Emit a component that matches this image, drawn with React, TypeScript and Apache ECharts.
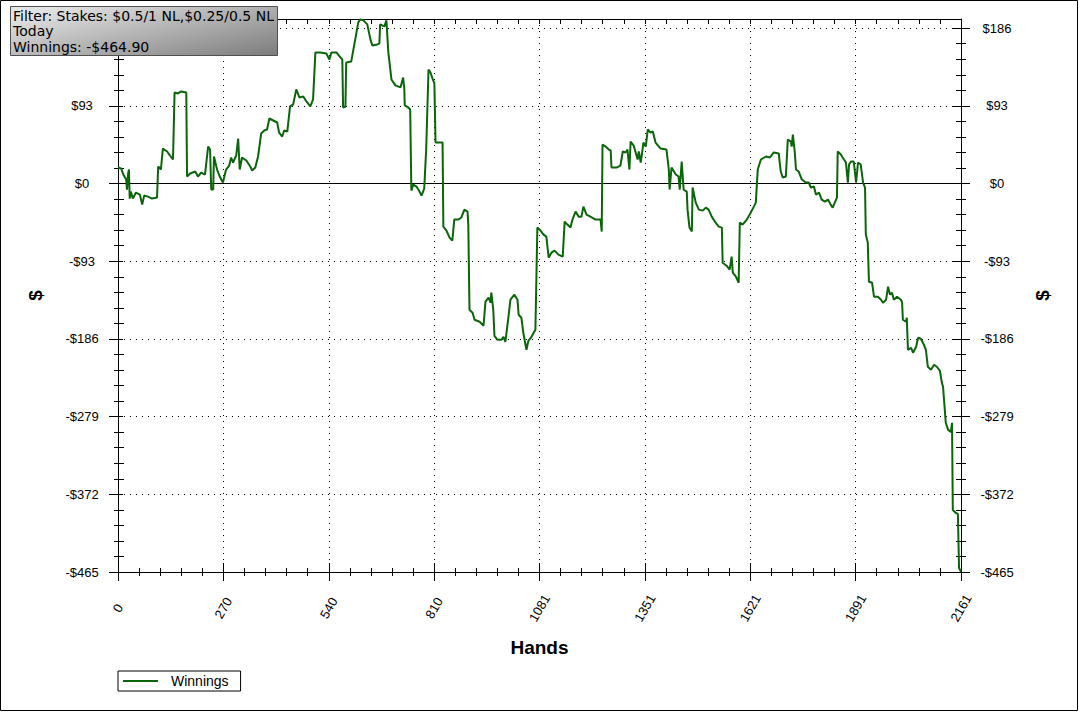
import React, { useEffect, useRef } from "react";
import * as echarts from "echarts";

// ---- data (hand number, cumulative winnings in $) ----
const hands = [
  0, 8, 15, 21, 23, 26, 28, 30, 33, 38,
  46, 56, 62, 67, 77, 87, 100, 103, 110, 115,
  126, 133, 141, 145, 154, 162, 175, 177, 185, 198,
  205, 213, 223, 231, 236, 239, 244, 246, 254, 262,
  269, 277, 285, 290, 295, 303, 308, 312, 318, 329,
  339, 344, 352, 359, 367, 375, 382, 388, 398, 408,
  413, 421, 426, 434, 441, 449, 457, 465, 475, 483,
  493, 500, 506, 518, 534, 542, 547, 560, 570, 575,
  577, 583, 585, 598, 616, 621, 629, 639, 647, 652,
  665, 670, 672, 683, 688, 693, 701, 711, 724, 731,
  734, 735, 744, 749, 752, 757, 765, 773, 778, 785,
  790, 796, 801, 808, 811, 814, 832, 834, 842, 850,
  857, 862, 873, 880, 888, 896, 898, 901, 909, 914,
  927, 937, 942, 950, 955, 957, 962, 965, 973, 983,
  988, 993, 1001, 1006, 1016, 1024, 1027, 1034, 1039, 1047,
  1052, 1060, 1070, 1075, 1083, 1091, 1098, 1104, 1111, 1119,
  1129, 1140, 1145, 1152, 1160, 1165, 1173, 1181, 1188, 1193,
  1201, 1211, 1224, 1237, 1240, 1242, 1250, 1258, 1263, 1265,
  1278, 1288, 1294, 1301, 1306, 1311, 1314, 1322, 1332, 1335,
  1340, 1347, 1353, 1358, 1365, 1371, 1378, 1391, 1406, 1412,
  1414, 1419, 1430, 1437, 1440, 1445, 1450, 1458, 1460, 1465,
  1471, 1473, 1481, 1489, 1499, 1507, 1514, 1522, 1530, 1540,
  1548, 1550, 1560, 1568, 1573, 1576, 1584, 1591, 1594, 1601,
  1612, 1622, 1630, 1635, 1640, 1648, 1661, 1671, 1681, 1694,
  1696, 1699, 1704, 1712, 1717, 1725, 1727, 1730, 1735, 1738,
  1745, 1753, 1763, 1771, 1776, 1784, 1789, 1797, 1804, 1812,
  1820, 1827, 1832, 1843, 1845, 1853, 1861, 1866, 1871, 1874,
  1879, 1886, 1892, 1897, 1904, 1910, 1915, 1917, 1922, 1925,
  1933, 1938, 1948, 1956, 1961, 1969, 1974, 1979, 1984, 1989,
  1997, 2007, 2010, 2012, 2020, 2022, 2025, 2033, 2038, 2046,
  2051, 2058, 2066, 2071, 2076, 2084, 2092, 2099, 2107, 2112,
  2115, 2122, 2128, 2135, 2138, 2140, 2148, 2153, 2156, 2161,
];

const winnings = [
  19.2, 18.0, 9.6, 4.8, -7.2, 12.0, 16.8, -18.0, -9.6, -18.0,
  -10.8, -13.2, -25.2, -14.4, -15.6, -18.0, -16.8, 20.4, 16.8, 41.9,
  38.4, 33.6, 28.8, 109.1, 107.9, 110.3, 109.1, 8.4, 12.0, 14.4,
  8.4, 13.2, 10.8, 44.3, 40.7, -7.2, -7.2, 32.4, 16.8, 7.2,
  1.2, 16.8, 21.6, 31.2, 25.2, 33.6, 53.9, 16.8, 31.2, 27.6,
  20.4, 15.6, 19.2, 32.4, 59.9, 63.5, 64.7, 77.9, 75.5, 73.1,
  61.1, 56.3, 63.5, 62.3, 92.3, 94.7, 112.7, 103.1, 104.3, 98.3,
  92.3, 100.7, 157.0, 157.0, 155.8, 148.6, 157.0, 157.0, 151.0, 148.6,
  91.1, 92.3, 145.0, 146.2, 193.0, 196.6, 195.4, 190.6, 172.6, 165.4,
  166.6, 167.8, 190.6, 188.2, 195.4, 157.0, 124.6, 117.5, 115.1, 127.0,
  112.7, 93.5, 91.1, 88.7, -8.4, -1.2, -3.6, -9.6, -14.4, -6.0,
  40.7, 136.6, 133.0, 123.4, 119.9, 49.1, 49.1, -51.5, -56.3, -64.7,
  -68.3, -43.1, -43.1, -40.7, -31.2, -33.6, -49.1, -151.0, -154.6, -163.0,
  -165.4, -170.2, -141.4, -136.6, -142.6, -130.6, -151.0, -182.2, -187.0, -187.0,
  -183.4, -189.4, -159.4, -139.0, -133.0, -139.0, -157.0, -160.6, -178.6, -199.0,
  -188.2, -183.4, -175.0, -52.7, -56.3, -61.1, -63.5, -88.7, -82.7, -80.3,
  -85.1, -87.5, -45.5, -49.1, -52.7, -43.1, -33.6, -39.6, -39.6, -27.6,
  -37.2, -39.6, -43.1, -43.1, -57.5, 46.7, 44.3, 40.7, 39.6, 19.2,
  19.2, 21.6, 38.4, 37.2, 40.7, 16.8, 50.3, 45.5, 28.8, 38.4,
  25.2, 49.1, 44.3, 64.7, 61.1, 62.3, 49.1, 41.9, 40.7, 16.8,
  -7.2, 19.2, 10.8, 8.4, -7.2, 26.4, -7.2, -9.6, -31.2, -52.7,
  -57.5, -4.8, -22.8, -31.2, -32.4, -28.8, -31.2, -39.6, -45.5, -51.5,
  -52.7, -94.7, -98.3, -103.1, -87.5, -106.7, -111.5, -118.7, -46.7, -49.1,
  -43.1, -34.8, -27.6, -22.8, 16.8, 28.8, 32.4, 31.2, 37.2, 36.0,
  26.4, 14.4, 7.2, 8.4, 52.7, 50.3, 44.3, 58.7, 37.2, 16.8,
  14.4, 4.8, 1.2, 1.2, -4.8, -3.6, -13.2, -10.8, -19.2, -21.6,
  -19.2, -25.2, -28.8, -16.8, 38.4, 34.8, 28.8, 25.2, 1.2, 22.8,
  26.4, 26.4, 1.2, 25.2, 22.8, 1.2, -4.8, -61.1, -70.7, -117.5,
  -118.7, -135.4, -135.4, -139.0, -142.6, -139.0, -123.4, -133.0, -130.6, -139.0,
  -135.4, -139.0, -142.6, -163.0, -165.4, -160.6, -199.0, -196.6, -202.5, -195.4,
  -184.6, -185.8, -193.0, -199.0, -219.3, -222.9, -216.9, -219.3, -224.1, -238.5,
  -243.3, -286.4, -294.8, -297.2, -286.4, -390.7, -394.3, -395.5, -460.2, -464.9,
];

// ---- axes / texts ----
const X_MIN = 0;
const X_MAX = 2161;
const X_DIVISIONS = 8;
const Y_MIN = -465;
const Y_TICK_MAX = 186;
const Y_MAX = 197;
const Y_STEP = 93;
const SERIES_NAME = "Winnings";
const X_TITLE = "Hands";
const Y_TITLE = "$";
const INFO_LINES = ["Filter: Stakes: $0.5/1 NL,$0.25/0.5 NL", "Today", "Winnings: -$464.90"];

const FONT = "'Liberation Sans', Arial, sans-serif";
const LINE_COLOR = "#0b650b";

export default function App() {
  const ref = useRef<HTMLDivElement>(null);

  useEffect(() => {
    const chart = echarts.init(ref.current!, null, { renderer: "svg" });
    const H = 712;
    const gL = 118;
    const gR = 118;
    const gT = 19;
    const gB = 140;
    const plotH = H - gT - gB;
    const gT1 = gT + ((Y_MAX - Y_TICK_MAX) / (Y_MAX - Y_MIN)) * plotH;
    const xInterval = (X_MAX - X_MIN) / X_DIVISIONS;

    const dotted = { color: "#000", width: 1, type: [1, 5] as any };
    const yFmt = (v: number) => (v < 0 ? "-$" + Math.abs(v) : "$" + v);
    const solidLine = { show: true, onZero: false, lineStyle: { color: "#000", width: 1 } };
    const noLine = { show: false, onZero: false };

    const baseX = { type: "value", min: X_MIN, max: X_MAX, interval: xInterval };
    const baseY1 = { type: "value", min: Y_MIN, max: Y_TICK_MAX, interval: Y_STEP, gridIndex: 1 };

    const option: any = {
      animation: false,
      backgroundColor: "#fff",
      grid: [
        { left: gL, right: gR, top: gT, bottom: gB, containLabel: false },
        { left: gL, right: gR, top: gT1, bottom: gB, containLabel: false },
      ],
      xAxis: [
        {
          ...baseX,
          gridIndex: 0,
          position: "bottom",
          axisLine: solidLine,
          axisTick: { show: true, inside: false, length: 9, lineStyle: { color: "#000" } },
          minorTick: { show: true, splitNumber: 5, length: 4, lineStyle: { color: "#000" } },
          axisLabel: {
            show: true,
            rotate: 60,
            margin: 36,
            align: "center",
            verticalAlign: "middle",
            color: "#000",
            fontFamily: FONT,
            fontSize: 13,
            formatter: (v: number) => String(Math.round(v)),
          },
          splitLine: { show: true, lineStyle: dotted },
          name: X_TITLE,
          nameLocation: "middle",
          nameGap: 66,
          nameTextStyle: { fontFamily: FONT, fontSize: 19, fontWeight: "bold", color: "#000" },
        },
        {
          ...baseX,
          gridIndex: 0,
          position: "top",
          axisLine: solidLine,
          axisTick: { show: true, inside: true, length: 5, lineStyle: { color: "#000" } },
          minorTick: { show: true, splitNumber: 5, length: 5, lineStyle: { color: "#000" } },
          axisLabel: { show: false },
          splitLine: { show: false },
        },
        {
          ...baseX,
          gridIndex: 1,
          position: "bottom",
          axisLine: noLine,
          axisTick: { show: true, inside: true, length: 9, lineStyle: { color: "#000" } },
          minorTick: { show: true, splitNumber: 5, length: 4, lineStyle: { color: "#000" } },
          axisLabel: { show: false },
          splitLine: { show: false },
        },
      ],
      yAxis: [
        {
          type: "value",
          gridIndex: 0,
          position: "left",
          min: Y_MIN,
          max: Y_MAX,
          axisLine: solidLine,
          axisTick: { show: false },
          axisLabel: { show: false },
          splitLine: { show: false },
          name: Y_TITLE,
          nameLocation: "middle",
          nameRotate: 90,
          nameGap: 73,
          nameTextStyle: { fontFamily: FONT, fontSize: 19, fontWeight: "bold", color: "#000" },
        },
        {
          type: "value",
          gridIndex: 0,
          position: "right",
          min: Y_MIN,
          max: Y_MAX,
          axisLine: solidLine,
          axisTick: { show: false },
          axisLabel: { show: false },
          splitLine: { show: false },
          name: Y_TITLE,
          nameLocation: "middle",
          nameRotate: 90,
          nameGap: 72,
          nameTextStyle: { fontFamily: FONT, fontSize: 19, fontWeight: "bold", color: "#000" },
        },
        {
          ...baseY1,
          position: "left",
          axisLine: noLine,
          axisTick: { show: true, inside: false, length: 9, lineStyle: { color: "#000" } },
          minorTick: { show: true, splitNumber: 5, length: 4, lineStyle: { color: "#000" } },
          axisLabel: {
            show: true,
            margin: 36,
            align: "center",
            color: "#000",
            fontFamily: FONT,
            fontSize: 13,
            formatter: yFmt,
          },
          splitLine: { show: true, lineStyle: dotted },
        },
        {
          ...baseY1,
          position: "left",
          axisLine: noLine,
          axisTick: { show: true, inside: true, length: 5, lineStyle: { color: "#000" } },
          minorTick: { show: true, splitNumber: 5, length: 6, lineStyle: { color: "#000" } },
          axisLabel: { show: false },
          splitLine: { show: false },
        },
        {
          ...baseY1,
          position: "right",
          axisLine: noLine,
          axisTick: { show: true, inside: false, length: 9, lineStyle: { color: "#000" } },
          minorTick: { show: true, splitNumber: 5, length: 5, lineStyle: { color: "#000" } },
          axisLabel: {
            show: true,
            margin: 36,
            align: "center",
            color: "#000",
            fontFamily: FONT,
            fontSize: 13,
            formatter: yFmt,
          },
          splitLine: { show: false },
        },
        {
          ...baseY1,
          position: "right",
          axisLine: noLine,
          axisTick: { show: true, inside: true, length: 8, lineStyle: { color: "#000" } },
          minorTick: { show: true, splitNumber: 5, length: 5, lineStyle: { color: "#000" } },
          axisLabel: { show: false },
          splitLine: { show: false },
        },
      ],
      legend: {
        data: [SERIES_NAME],
        left: 118,
        top: 671,
        orient: "horizontal",
        padding: [3, 12, 3, 5],
        itemWidth: 35,
        itemHeight: 2,
        icon: "rect",
        borderColor: "#000",
        borderWidth: 1,
        borderRadius: 0,
        backgroundColor: "#fff",
        textStyle: { fontFamily: FONT, fontSize: 14, color: "#000", padding: [0, 0, 0, 8] },
      },
      series: [
        {
          name: SERIES_NAME,
          type: "line",
          xAxisIndex: 0,
          yAxisIndex: 0,
          data: hands.map((h, i) => [h, winnings[i]]),
          symbol: "none",
          showSymbol: false,
          lineStyle: { color: LINE_COLOR, width: 2 },
          itemStyle: { color: LINE_COLOR },
          z: 5,
          markLine: {
            silent: true,
            symbol: ["none", "none"],
            label: { show: false },
            lineStyle: { color: "#000", type: "solid", width: 1 },
            data: [{ yAxis: 0 }],
            z: 3,
          },
        },
      ],
      graphic: [
        {
          type: "rect",
          z: 200,
          zlevel: 0,
          silent: true,
          shape: { x: 0.5, y: 0.5, width: 1077, height: 710 },
          style: { fill: "none", stroke: "#000", lineWidth: 1 },
        },
        {
          type: "rect",
          z: 200,
          silent: true,
          shape: { x: 10.5, y: 6.5, width: 267, height: 49 },
          style: {
            fill: new echarts.graphic.LinearGradient(0, 0.2, 1, 1, [
              { offset: 0, color: "#e4e4e4" },
              { offset: 1, color: "#7c7c7c" },
            ]),
            stroke: "#505050",
            lineWidth: 1,
          },
        },
        {
          type: "text",
          z: 201,
          silent: true,
          x: 13,
          y: 8,
          style: {
            text: INFO_LINES.join("\n"),
            fontFamily: "'DejaVu Sans', Verdana, sans-serif",
            fontSize: 14,
            lineHeight: 15.5,
            fill: "#000",
            textVerticalAlign: "top",
          },
        },
      ],
    };

    chart.setOption(option);
    return () => chart.dispose();
  }, []);

  return (
    <div
      ref={ref}
      style={{ position: "absolute", left: 0, top: 0, width: 1079, height: 712, background: "#fff" }}
    />
  );
}
